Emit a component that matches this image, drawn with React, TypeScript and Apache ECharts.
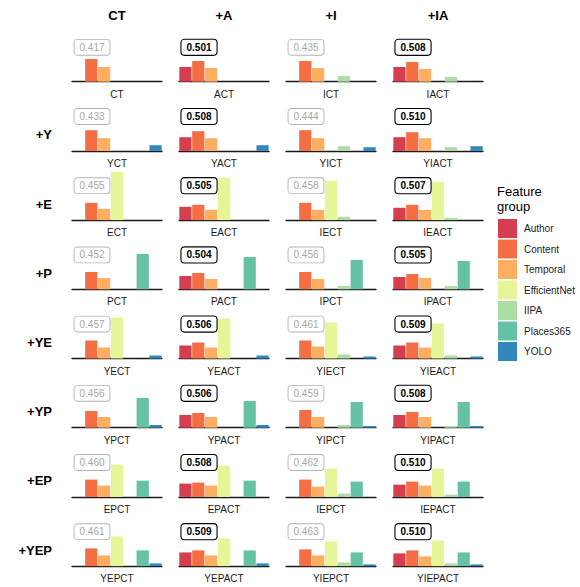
import React, { useEffect, useRef } from "react";
import * as echarts from "echarts";

const groups = ["Author", "Content", "Temporal", "EfficientNet", "IIPA", "Places365", "YOLO"];
const groupColors = ["#D53E4F", "#F46D43", "#FDAE61", "#E6F598", "#ABDDA4", "#66C2A5", "#3288BD"];
const columnHeaders = ["CT", "+A", "+I", "+IA"];
const rowHeaders = ["", "+Y", "+E", "+P", "+YE", "+YP", "+EP", "+YEP"];

const panelNames = [
  "CT", "ACT", "ICT", "IACT",
  "YCT", "YACT", "YICT", "YIACT",
  "ECT", "EACT", "IECT", "IEACT",
  "PCT", "PACT", "IPCT", "IPACT",
  "YECT", "YEACT", "YIECT", "YIEACT",
  "YPCT", "YPACT", "YIPCT", "YIPACT",
  "EPCT", "EPACT", "IEPCT", "IEPACT",
  "YEPCT", "YEPACT", "YIEPCT", "YIEPACT",
];
const scores = [
  "0.417", "0.501", "0.435", "0.508",
  "0.433", "0.508", "0.444", "0.510",
  "0.455", "0.505", "0.458", "0.507",
  "0.452", "0.504", "0.456", "0.505",
  "0.457", "0.506", "0.461", "0.509",
  "0.456", "0.506", "0.459", "0.508",
  "0.460", "0.508", "0.462", "0.510",
  "0.461", "0.509", "0.463", "0.510",
];

const author = [
  0, 14.7, 0, 14.7,
  0, 13.7, 0, 13.7,
  0, 13.3, 0, 12.3,
  0, 13.3, 0, 12.3,
  0, 13, 0, 13,
  0, 12.7, 0, 12.7,
  0, 13.3, 0, 12.3,
  0, 13.7, 0, 12.7,
];
const content = [
  22.7, 20.7, 20.7, 19.7,
  20.7, 19.7, 20.7, 18.7,
  17.3, 15.3, 17.3, 15.3,
  17.3, 16.3, 17.3, 15.3,
  18, 16, 18, 16,
  16.7, 14.7, 17.7, 15.7,
  17.3, 14.3, 17.3, 15.3,
  17.7, 15.7, 16.7, 15.7,
];
const temporal = [
  14.7, 13.7, 13.7, 12.7,
  12.7, 12.7, 12.7, 12.7,
  11.3, 10.3, 10.3, 10.3,
  11.3, 10.3, 10.3, 11.3,
  11, 11, 12, 11,
  10.7, 10.7, 10.7, 10.7,
  11.3, 11.3, 10.3, 11.3,
  10.7, 10.7, 10.7, 9.7,
];
const efficientNet = [
  0, 0, 0, 0,
  0, 0, 0, 0,
  48.3, 42.3, 39.3, 38.3,
  0, 0, 0, 0,
  41, 40, 36, 35,
  0, 0, 0, 0,
  32.3, 31.3, 28.3, 28.3,
  29.7, 27.7, 24.7, 25.7,
];
const iipa = [
  0, 0, 5.7, 4.7,
  0, 0, 4.7, 3.7,
  0, 0, 3.3, 2.3,
  0, 0, 3.3, 3.3,
  0, 0, 4, 3,
  0, 0, 2.7, 1.7,
  0, 0, 3.3, 2.3,
  0, 0, 3.7, 2.7,
];
const places365 = [
  0, 0, 0, 0,
  0, 0, 0, 0,
  0, 0, 0, 0,
  35.3, 32.3, 29.3, 28.3,
  0, 0, 0, 0,
  29.7, 26.7, 25.7, 25.7,
  16.3, 16.3, 15.3, 15.3,
  15.7, 15.7, 13.7, 13.7,
];
const yolo = [
  0, 0, 0, 0,
  5.7, 5.7, 3.7, 4.7,
  0, 0, 0, 0,
  0, 0, 0, 0,
  3, 3, 2, 2,
  2.7, 2.7, 1.7, 1.7,
  0, 0, 0, 0,
  2.7, 2.7, 1.7, 1.7,
];

const groupValues = [author, content, temporal, efficientNet, iipa, places365, yolo];

const FONT = "'Liberation Sans', Arial, Helvetica, sans-serif";

export default function App() {
  const ref = useRef<HTMLDivElement>(null);
  useEffect(() => {
    if (!ref.current) return;
    const chart = echarts.init(ref.current, null, { renderer: "svg" });

    const nCols = 4;
    const panelW = 90;
    const panelH = 50;
    const colLeft = (c: number) => 72 + 107 * c;
    const rowAxis = (r: number) => 81.7 + 69.2 * r;

    const grids: any[] = [];
    const xAxes: any[] = [];
    const yAxes: any[] = [];
    const series: any[] = [];
    const graphics: any[] = [];

    panelNames.forEach((name, i) => {
      const r = Math.floor(i / nCols);
      const c = i % nCols;
      const left = colLeft(c);
      const axisY = rowAxis(r);
      grids.push({ left, top: axisY - panelH, width: panelW, height: panelH });
      xAxes.push({
        gridIndex: i,
        type: "category",
        data: groups,
        name,
        nameLocation: "middle",
        nameGap: 7.5,
        nameTextStyle: { fontSize: 10, color: "#1a1a1a", fontFamily: FONT, verticalAlign: "top" },
        axisLine: { show: true, lineStyle: { color: "#1a1a1a", width: 1.3 } },
        axisTick: { show: false },
        axisLabel: { show: false },
        splitLine: { show: false },
      });
      yAxes.push({
        gridIndex: i,
        type: "value",
        min: 0,
        max: 50,
        show: false,
        splitLine: { show: false },
      });
      groups.forEach((g, gi) => {
        const v = groupValues[gi][i];
        series.push({
          type: "bar",
          name: g,
          xAxisIndex: i,
          yAxisIndex: i,
          stack: "p" + i,
          barCategoryGap: "5%",
          itemStyle: { color: groupColors[gi] },
          data: groups.map((_, k) => (k === gi && v > 0 ? v : "-")),
          silent: true,
        });
      });
      const isA = c === 1 || c === 3;
      graphics.push({
        type: "text",
        x: left + 2.5,
        y: axisY - 34.4,
        z: 10,
        style: {
          text: scores[i],
          x: 0,
          y: 0,
          align: "left",
          verticalAlign: "middle",
          fill: isA ? "#000000" : "#a6a6a6",
          font: `${isA ? "bold " : ""}10px ${FONT}`,
          backgroundColor: "#ffffff",
          borderColor: isA ? "#000000" : "#b3b3b3",
          borderWidth: isA ? 1.1 : 0.9,
          borderRadius: 3,
          padding: [3, 5, 2, 5],
        },
      });
    });

    columnHeaders.forEach((h, c) => {
      graphics.push({
        type: "text",
        x: colLeft(c) + panelW / 2,
        y: 15.5,
        style: {
          text: h,
          align: "center",
          verticalAlign: "middle",
          fill: "#000",
          font: `bold 13px ${FONT}`,
        },
      });
    });
    rowHeaders.forEach((h, r) => {
      if (!h) return;
      graphics.push({
        type: "text",
        x: 52,
        y: rowAxis(r) - 16,
        style: {
          text: h,
          align: "right",
          verticalAlign: "middle",
          fill: "#000",
          font: `bold 13px ${FONT}`,
        },
      });
    });
    graphics.push({
      type: "text",
      x: 497,
      y: 184,
      style: {
        text: "Feature\ngroup",
        align: "left",
        verticalAlign: "top",
        fill: "#000",
        font: `13px ${FONT}`,
        lineHeight: 15,
      },
    });

    chart.setOption({
      animation: false,
      backgroundColor: "#ffffff",
      textStyle: { fontFamily: FONT },
      grid: grids,
      xAxis: xAxes,
      yAxis: yAxes,
      series,
      legend: {
        data: groups,
        orient: "vertical",
        left: 498,
        top: 219,
        padding: 0,
        itemWidth: 19,
        itemHeight: 19,
        itemGap: 1.5,
        icon: "rect",
        selectedMode: false,
        textStyle: { fontSize: 10, color: "#1a1a1a", fontFamily: FONT, padding: [0, 0, 0, 2] },
      },
      graphic: graphics,
    });

    return () => chart.dispose();
  }, []);

  return (
    <div
      ref={ref}
      style={{ position: "fixed", left: 0, top: 0, width: 580, height: 587, background: "#fff" }}
    />
  );
}
